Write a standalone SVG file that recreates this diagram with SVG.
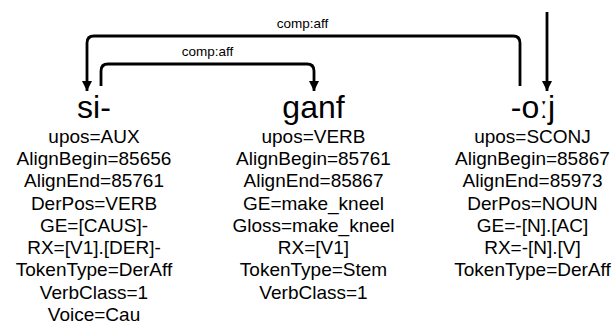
<svg xmlns="http://www.w3.org/2000/svg" width="615" height="329" viewBox="0 0 615 329">
<defs>
<style>
.w{font-family:"Liberation Sans",Arial,sans-serif;font-size:32px;fill:#000;text-anchor:middle}
.f{font-family:"Liberation Sans",Arial,sans-serif;font-size:19px;fill:#000;text-anchor:middle}
.l{font-family:"Liberation Sans",Arial,sans-serif;font-size:13.5px;fill:#000;text-anchor:middle}
.e{fill:none;stroke:#000;stroke-width:2.8}
</style>
<marker id="ah" viewBox="0 0 10 10" refX="10" refY="5" markerWidth="10" markerHeight="10" markerUnits="userSpaceOnUse" orient="auto">
<path d="M0,0 L10,5 L0,10 z" fill="#000"/>
</marker>
</defs>
<g id="connectors">
<path class="e" d="M520,86 V43 Q520,36 513,36 H94 Q87,36 87,43 V91" marker-end="url(#ah)"/>
<text class="l" x="302.5" y="28">comp:aff</text>
<path class="e" d="M101,86 V71 Q101,64 108,64 H307 Q314,64 314,71 V91" marker-end="url(#ah)"/>
<text class="l" x="207.5" y="56">comp:aff</text>
<path class="e" d="M547,12 V91" marker-end="url(#ah)"/>
</g>
<g id="n1">
<text class="w" x="94" y="118">si-</text>
<text class="f" x="94" y="143">upos=AUX</text>
<text class="f" x="94" y="165">AlignBegin=85656</text>
<text class="f" x="94" y="187">AlignEnd=85761</text>
<text class="f" x="94" y="210">DerPos=VERB</text>
<text class="f" x="94" y="232">GE=[CAUS]-</text>
<text class="f" x="94" y="254">RX=[V1].[DER]-</text>
<text class="f" x="94" y="276">TokenType=DerAff</text>
<text class="f" x="94" y="299">VerbClass=1</text>
<text class="f" x="94" y="321">Voice=Cau</text>
</g>
<g id="n2">
<text class="w" x="313.5" y="118">ganf</text>
<text class="f" x="313.5" y="143">upos=VERB</text>
<text class="f" x="313.5" y="165">AlignBegin=85761</text>
<text class="f" x="313.5" y="187">AlignEnd=85867</text>
<text class="f" x="313.5" y="210">GE=make_kneel</text>
<text class="f" x="313.5" y="232">Gloss=make_kneel</text>
<text class="f" x="313.5" y="254">RX=[V1]</text>
<text class="f" x="313.5" y="276">TokenType=Stem</text>
<text class="f" x="313.5" y="299">VerbClass=1</text>
</g>
<g id="n3">
<text class="w" x="533" y="118">-oːj</text>
<text class="f" x="532.5" y="143">upos=SCONJ</text>
<text class="f" x="532.5" y="165">AlignBegin=85867</text>
<text class="f" x="532.5" y="187">AlignEnd=85973</text>
<text class="f" x="532.5" y="210">DerPos=NOUN</text>
<text class="f" x="532.5" y="232">GE=-[N].[AC]</text>
<text class="f" x="532.5" y="254">RX=-[N].[V]</text>
<text class="f" x="532.5" y="276">TokenType=DerAff</text>
</g>
</svg>
